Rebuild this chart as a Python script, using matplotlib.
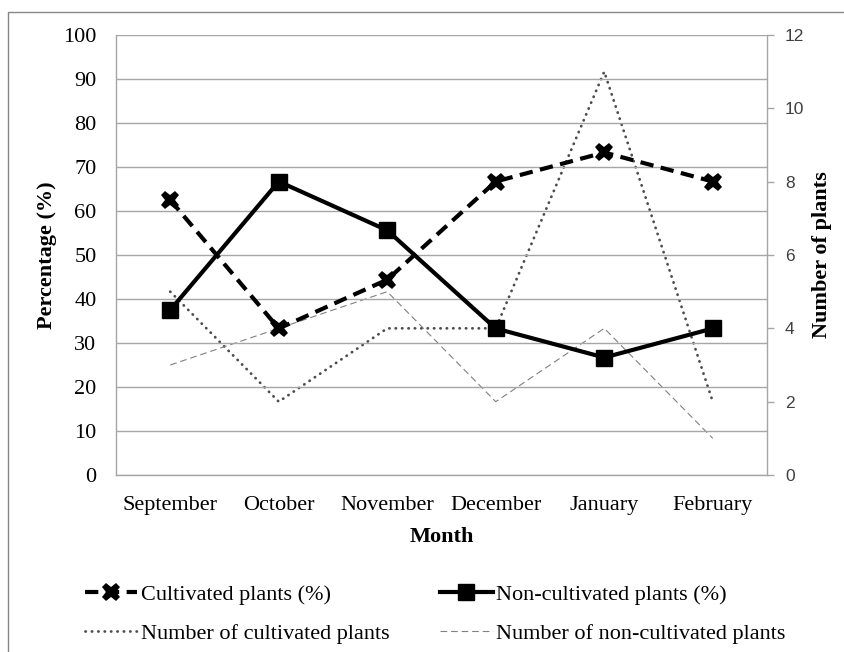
import matplotlib
matplotlib.use("Agg")
import matplotlib.pyplot as plt
from matplotlib.patches import Rectangle

months = ["September", "October", "November", "December", "January", "February"]
cultivated_pct = [62.5, 33.3, 44.4, 66.7, 73.3, 66.7]
non_cultivated_pct = [37.5, 66.7, 55.6, 33.3, 26.7, 33.3]
n_cultivated = [5, 2, 4, 4, 11, 2]
n_non_cultivated = [3, 4, 5, 2, 4, 1]

SERIF = "Liberation Serif"
GRID = "#a6a6a6"

plt.rcParams["font.family"] = SERIF

fig = plt.figure(figsize=(8.45, 6.52), dpi=100, facecolor="white")
W, H = 845, 652

# outer chart frame (cropped on right/bottom like the reference)
fig.patches.append(Rectangle((8 / W, -0.05), 1.0, 1 - 12 / H + 0.05, transform=fig.transFigure,
                             fill=False, edgecolor="#868686", lw=1.0))

ax = fig.add_axes([116 / W, 1 - 475 / H, (767 - 116) / W, (475 - 35) / H])
ax2 = ax.twinx()

x = list(range(len(months)))

# counts on secondary axis
l3, = ax2.plot(x, n_cultivated, color="#4d4d4d", lw=2.0, linestyle=(0, (0.1, 2.2)),
               dash_capstyle="round", label="Number of cultivated plants")
l4, = ax2.plot(x, n_non_cultivated, color="#808080", lw=0.8, linestyle=(0, (6, 3.5)),
               label="Number of non-cultivated plants")

# percentages on primary axis
l1, = ax.plot(x, cultivated_pct, color="black", lw=3, linestyle=(0, (3.2, 1.8)),
              marker="X", markersize=13, markeredgewidth=0, label="Cultivated plants (%)")
l2, = ax.plot(x, non_cultivated_pct, color="black", lw=3, marker="s", markersize=12,
              label="Non-cultivated plants (%)")

ax.set_zorder(ax2.get_zorder() + 1)
ax.patch.set_visible(False)

ax.set_xlim(-0.5, len(months) - 0.5)
ax.set_ylim(0, 100)
ax.set_yticks(range(0, 101, 10))
ax.set_xticks(x)
ax.set_xticklabels(months, fontsize=16)
ax.tick_params(axis="y", labelsize=16, length=0, pad=14)
ax.tick_params(axis="x", length=0, pad=15)
ax.yaxis.grid(True, color=GRID, lw=1.0)
ax.set_axisbelow(True)
for s in ["top", "right"]:
    ax.spines[s].set_visible(False)
for s in ["left", "bottom"]:
    ax.spines[s].set_color(GRID)
    ax.spines[s].set_linewidth(1.0)

ax2.set_ylim(0, 12)
ax2.set_yticks(range(0, 13, 2))
ax2.tick_params(axis="y", length=5, width=1.0, color=GRID, pad=8, labelsize=12.5,
                labelcolor="#404040")
for lab in ax2.get_yticklabels():
    lab.set_family("Liberation Sans")
for s in ["top", "left", "bottom"]:
    ax2.spines[s].set_visible(False)
ax2.spines["right"].set_color(GRID)
ax2.spines["right"].set_linewidth(1.0)

fig.text(47 / W, 1 - 255 / H, "Percentage (%)", rotation=90, ha="center", va="center",
         fontsize=16, fontweight="bold")
fig.text(822 / W, 1 - 255 / H, "Number of plants", rotation=90, ha="center", va="center",
         fontsize=16, fontweight="bold")
fig.text(0.5 * (116 + 767) / W, 1 - 537 / H, "Month", ha="center", va="center",
         fontsize=16, fontweight="bold")

fig.legend([l1, l3, l2, l4],
           [l1.get_label(), l3.get_label(), l2.get_label(), l4.get_label()],
           ncol=2, frameon=False, loc="upper left",
           bbox_to_anchor=(85 / W, 1 - 584 / H), borderaxespad=0, borderpad=0,
           fontsize=16, handlelength=2.35, handletextpad=0.15, columnspacing=2.3,
           labelspacing=0.85)

fig.savefig("out.png", dpi=100, facecolor="white")
